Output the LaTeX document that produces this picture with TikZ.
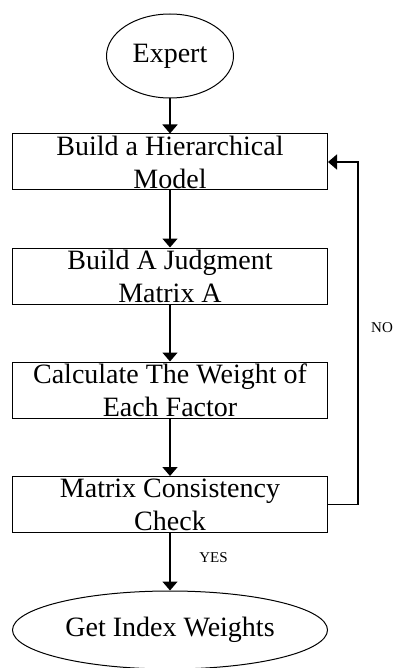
\documentclass[tikz,border=0pt]{standalone}
\usepackage{fontspec}
\setmainfont{Liberation Serif}
\usepackage{tikz}
\usetikzlibrary{shapes, arrows.meta}

\begin{document}
\begin{tikzpicture}[x=1pt, y=-1pt,
    stepbox/.style={draw, line width=1pt, rectangle, minimum width=315pt, minimum height=56pt, inner sep=0pt, align=center, font=\fontsize{28}{33}\selectfont},
    endpoint/.style={draw, line width=1pt, ellipse, inner sep=0pt, font=\fontsize{28}{33}\selectfont},
    flow/.style={-{Triangle[width=15pt, length=9pt]}, line width=1.6pt},
    tag/.style={font=\fontsize{15}{18}\selectfont}]
      \useasboundingbox (0,0) rectangle (393,668);

      % Start
      \node[endpoint, minimum width=127pt, minimum height=84pt] (expert) at (170,56) {Expert};

      % Process steps
      \node[stepbox] (build) at (170,162) {Build a Hierarchical\\Model};
      \node[stepbox] (judge) at (170,276) {Build A Judgment\\Matrix A};
      \node[stepbox] (weigh) at (170,390) {Calculate The Weight of\\Each Factor};
      \node[stepbox] (check) at (170,504.5) {Matrix Consistency\\Check};

      % Result
      \node[endpoint, minimum width=315pt, minimum height=78pt] (result) at (170,630) {Get Index Weights};

      \draw[flow] (expert.south) -- (build.north);
      \draw[flow] (build) -- (judge);
      \draw[flow] (judge) -- (weigh);
      \draw[flow] (weigh) -- (check);
      \draw[flow] (check) -- (result);

      % Feedback loop
      \draw[flow] (check.east) -- ++(30,0) |- (build.east);

      % Labels
      \node[tag, anchor=west, inner sep=0pt] (no) at (371,328) {NO};
      \node[tag, inner sep=0pt] (yes) at (213.5,558) {YES};
    \end{tikzpicture}
\end{document}
